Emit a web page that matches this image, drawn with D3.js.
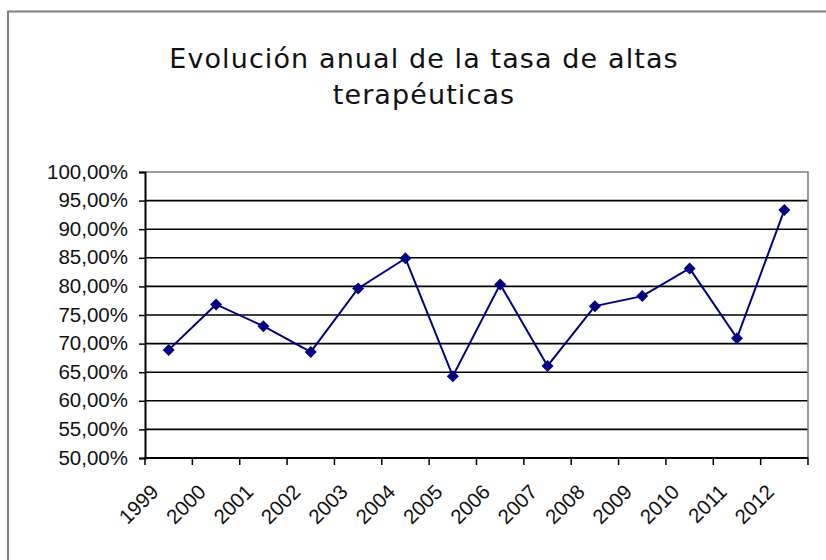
<!DOCTYPE html>
<html>
<head>
<meta charset="utf-8">
<script src="https://cdn.jsdelivr.net/npm/d3@7"></script>
<style>
  body { margin: 0; background: #fff; }
  svg { display: block; }
</style>
</head>
<body>
<svg id="chart"></svg>
<script>
const years = ["1999", "2000", "2001", "2002", "2003", "2004", "2005",
               "2006", "2007", "2008", "2009", "2010", "2011", "2012"];
const rates = [68.9, 76.85, 73.05, 68.55, 79.65, 84.9, 64.3,
               80.35, 66.1, 76.55, 78.3, 83.15, 70.95, 93.35];
const yTicks = [50, 55, 60, 65, 70, 75, 80, 85, 90, 95, 100];
const titleLines = ["Evolución anual de la tasa de altas", "terapéuticas"];

const width = 826, height = 560;
const plot = { left: 145, right: 808, top: 172, bottom: 458 };
const labelFont = "Liberation Sans, Arial, sans-serif";

const svg = d3.select("#chart")
    .attr("width", width)
    .attr("height", height);

// outer chart border (runs off the right and bottom of the picture)
svg.append("rect")
    .attr("x", 8).attr("y", 11.5)
    .attr("width", 900).attr("height", 700)
    .attr("fill", "#fff")
    .attr("stroke", "#808080")
    .attr("stroke-width", 2);

// title
svg.append("g")
    .selectAll("text")
    .data(titleLines)
    .enter()
    .append("text")
    .attr("x", 424)
    .attr("y", (d, i) => 68 + i * 36)
    .attr("text-anchor", "middle")
    .attr("font-family", "DejaVu Sans")
    .attr("font-size", 27)
    .attr("letter-spacing", 1.1)
    .attr("fill", "#111")
    .text(d => d);

let x = d3.scaleBand()
    .domain(years)
    .range([plot.left, plot.right]);

let y = d3.scaleLinear()
    .domain([50, 100])
    .range([plot.bottom, plot.top]);

// gridlines
svg.append("g")
    .selectAll("line")
    .data(yTicks.filter(d => d > 50 && d < 100))
    .enter()
    .append("line")
    .attr("x1", plot.left).attr("x2", plot.right)
    .attr("y1", d => y(d)).attr("y2", d => y(d))
    .attr("stroke", "#000")
    .attr("stroke-width", 1.6);

// plot area border (top and right in gray)
svg.append("path")
    .attr("d", `M${plot.left},${plot.top}H${plot.right}V${plot.bottom}`)
    .attr("fill", "none")
    .attr("stroke", "#808080")
    .attr("stroke-width", 1.6);

// y axis
let yAxis = d3.axisLeft(y)
    .tickValues(yTicks)
    .tickSize(6)
    .tickPadding(11)
    .tickFormat(d => d3.format(".2f")(d).replace(".", ",") + "%");

let gy = svg.append("g")
    .attr("transform", `translate(${plot.left},0)`)
    .call(yAxis);
gy.select(".domain").attr("stroke", "#000").attr("stroke-width", 2);
gy.selectAll(".tick line").attr("stroke", "#000").attr("stroke-width", 1.5);
gy.selectAll(".tick text")
    .attr("font-family", labelFont)
    .attr("font-size", 20.5)
    .attr("fill", "#111")
    .attr("dy", "0.3em");

// x axis: ticks on category boundaries
let boundaries = years.map(d => x(d)).concat([plot.right]);
let gx = svg.append("g");
gx.append("line")
    .attr("x1", plot.left - 1).attr("x2", plot.right)
    .attr("y1", plot.bottom).attr("y2", plot.bottom)
    .attr("stroke", "#000")
    .attr("stroke-width", 2);
gx.selectAll("line.tick")
    .data(boundaries)
    .enter()
    .append("line")
    .attr("class", "tick")
    .attr("x1", d => d).attr("x2", d => d)
    .attr("y1", plot.bottom).attr("y2", plot.bottom + 7)
    .attr("stroke", "#000")
    .attr("stroke-width", 1.5);
gx.selectAll("text")
    .data(years)
    .enter()
    .append("text")
    .attr("transform", d => `translate(${x(d) + x.bandwidth() / 2 - 14},${plot.bottom + 30}) rotate(-45)`)
    .attr("text-anchor", "end")
    .attr("dy", "0.35em")
    .attr("font-family", labelFont)
    .attr("font-size", 20.5)
    .attr("fill", "#111")
    .text(d => d);

// series line
let cx = (d, i) => x(years[i]) + x.bandwidth() / 2;
let line = d3.line()
    .x(cx)
    .y(d => y(d));

svg.append("path")
    .datum(rates)
    .attr("d", line)
    .attr("fill", "none")
    .attr("stroke", "#000080")
    .attr("stroke-width", 2);

// diamond markers
let diamond = d3.symbol().type(d3.symbolSquare).size(72);
svg.append("g")
    .selectAll("path")
    .data(rates)
    .enter()
    .append("path")
    .attr("d", diamond)
    .attr("transform", (d, i) => `translate(${cx(d, i)},${y(d)}) rotate(45)`)
    .attr("fill", "#000080");
</script>
</body>
</html>
